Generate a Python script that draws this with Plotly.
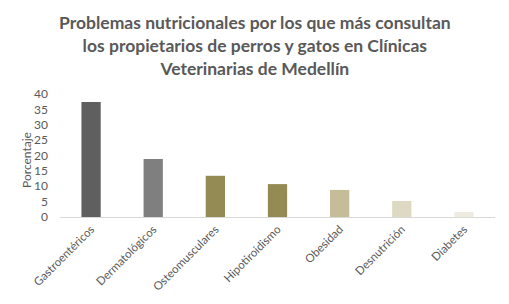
import plotly.graph_objects as go

categories = ["Gastroentéricos", "Dermatológicos", "Osteomusculares", "Hipotiroidismo",
              "Obesidad", "Desnutrición", "Diabetes"]
values = [37.4, 18.9, 13.4, 10.7, 8.8, 5.2, 1.6]
colors = ["#5f5f5f", "#7f7f7f", "#948a54", "#948a54", "#c4bd97", "#ddd9c3", "#eeece1"]
y_ticks = [0, 5, 10, 15, 20, 25, 30, 35, 40]
title_lines = ["Problemas nutricionales por los que más consultan",
               "los propietarios de perros y gatos en Clínicas",
               "Veterinarias de Medellín"]

fig = go.Figure(go.Bar(x=categories, y=values, marker=dict(color=colors, line=dict(width=0)),
                       width=0.31))

# page body has an 8px margin, so the figure is sized to fit the 509x304 window
fig.update_layout(
    width=501, height=296,
    margin=dict(l=52, r=14, t=86, b=87),
    paper_bgcolor="white", plot_bgcolor="white",
    font=dict(family="Lato", color="#595959", size=12),
    showlegend=False,
    annotations=[
        dict(text="<br>".join(title_lines), xref="paper", yref="paper",
             x=0.448, y=1.398, xanchor="center", yanchor="middle", showarrow=False,
             font=dict(family="Lato", size=17.5, color="#595959", weight="bold")),
        dict(text="Porcentaje", xref="paper", yref="paper", x=-0.077, y=0.46,
             xanchor="center", yanchor="middle", textangle=-90, showarrow=False,
             font=dict(family="Lato", size=12, color="#595959")),
    ],
    xaxis=dict(showline=True, linecolor="#d9d9d9", linewidth=1, tickangle=-45,
               showgrid=False, ticks="", automargin=False,
               tickfont=dict(size=11.5, color="#595959")),
    yaxis=dict(range=[0, 40], tickvals=y_ticks, showgrid=False, zeroline=False,
               showline=False, ticks="", automargin=False, ticklabelstandoff=11,
               tickfont=dict(size=12, color="#595959")),
)

fig.write_html("out.html")
